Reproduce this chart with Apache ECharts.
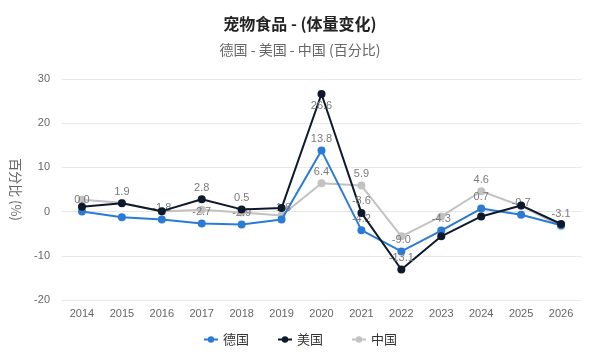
<!DOCTYPE html>
<html>
<head>
<meta charset="utf-8">
<script src="https://cdn.jsdelivr.net/npm/echarts@6/dist/echarts.min.js"></script>
<style>html,body{margin:0;padding:0;background:#fff}#c{width:600px;height:363px}</style>
</head>
<body>
<div id="c"></div>
<script>
var years = ['2014','2015','2016','2017','2018','2019','2020','2021','2022','2023','2024','2025','2026'];
var seriesNames = ['德国','美国','中国'];
var germany = [0.0, -1.3, -1.8, -2.7, -2.9, -1.8, 13.8, -4.2, -9.0, -4.3, 0.7, -0.7, -3.1];
var usa     = [1.1, 1.9, 0.1, 2.8, 0.5, 0.8, 26.6, -0.3, -13.1, -5.6, -1.1, 1.4, -2.8];
var china   = [2.7, 2.0, 0.0, 0.4, -0.2, -0.9, 6.4, 5.9, -5.6, -1.1, 4.6, 1.3, -3.3];
var germanyLabels = ['0.0', null, '-1.8', '-2.7', '-2.9', '-1.8', '13.8', '-4.2', '-9.0', '-4.3', '0.7', '-0.7', '-3.1'];
var usaLabels     = [null, '1.9', null, '2.8', '0.5', null, '26.6', '-8.6', '-13.1', null, null, null, null];
var chinaLabels   = [null, null, null, null, null, null, '6.4', '5.9', null, null, '4.6', null, null];
var yTicks = [-20, -10, 0, 10, 20, 30];
var colors = ['#2b7bd6', '#0e1a2b', '#c2c2c2'];

var FONT = "'Liberation Sans', 'Noto Sans CJK SC', sans-serif";

function build(values, labels, pos) {
  return values.map(function (v, i) {
    var item = { value: v };
    if (labels[i] !== null) {
      item.label = { show: true, formatter: labels[i], position: (pos && pos[i]) || 'top' };
    }
    return item;
  });
}

var usaPos = {6: 'bottom'};

var chart = echarts.init(document.getElementById('c'), null, { renderer: 'canvas' });
var labelStyle = { show: false, color: '#7a7a7a', fontSize: 11, fontFamily: FONT, distance: 2 };
chart.setOption({
  animation: false,
  color: colors,
  title: [{
    text: '宠物食品 - (体量变化)',
    left: 'center', top: 11,
    textStyle: { fontSize: 16, fontWeight: 'bold', color: '#222', fontFamily: "'Noto Sans CJK SC', sans-serif" }
  }, {
    text: '德国 - 美国 - 中国 (百分比)',
    left: 'center', top: 38,
    textStyle: { fontSize: 14, fontWeight: 'normal', color: '#666', fontFamily: "'Noto Sans CJK SC', sans-serif" }
  }],
  legend: {
    bottom: 12, left: 'center',
    itemWidth: 14, itemHeight: 8, itemGap: 28,
    textStyle: { fontSize: 13, color: '#333', fontFamily: "'Noto Sans CJK SC', sans-serif" },
    data: seriesNames
  },
  grid: { left: 62, right: 19, top: 79, bottom: 63 },
  xAxis: {
    type: 'category', data: years, boundaryGap: true,
    axisLine: { show: true, lineStyle: { color: '#e6e6e6' } },
    axisTick: { show: false },
    axisLabel: { color: '#666', fontSize: 11, fontFamily: FONT, margin: 8 }
  },
  yAxis: {
    type: 'value', min: yTicks[0], max: yTicks[yTicks.length - 1], interval: 10,
    name: '百分比 (%)', nameLocation: 'middle', nameGap: 40, nameRotate: -90,
    nameTextStyle: { color: '#666', fontSize: 13, fontFamily: "'Noto Sans CJK SC', sans-serif" },
    axisLine: { show: false }, axisTick: { show: false },
    axisLabel: { color: '#666', fontSize: 11, fontFamily: FONT, margin: 12 },
    splitLine: { lineStyle: { color: '#e9e9e9' } }
  },
  series: [
    { name: seriesNames[0], type: 'line', data: build(germany, germanyLabels), symbol: 'circle', symbolSize: 8,
      lineStyle: { width: 2 }, label: labelStyle, z: 3 },
    { name: seriesNames[1], type: 'line', data: build(usa, usaLabels, usaPos), symbol: 'circle', symbolSize: 8,
      lineStyle: { width: 2 }, label: labelStyle, z: 4 },
    { name: seriesNames[2], type: 'line', data: build(china, chinaLabels), symbol: 'circle', symbolSize: 8,
      lineStyle: { width: 2 }, label: labelStyle, z: 2 }
  ]
});
</script>
</body>
</html>
